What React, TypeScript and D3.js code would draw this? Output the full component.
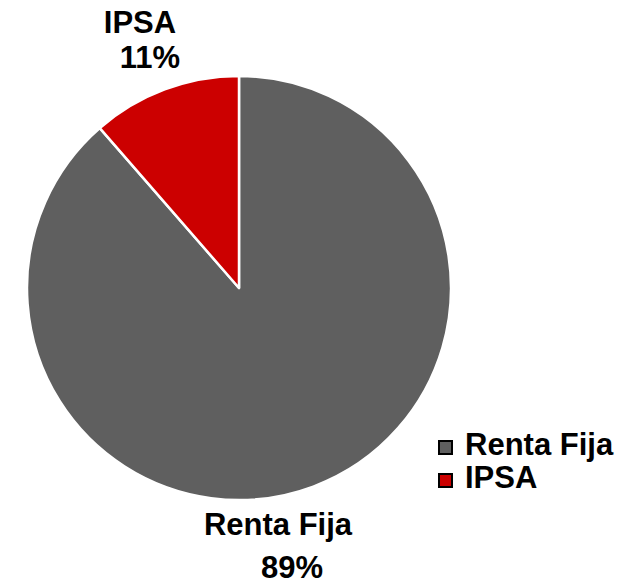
import React, { useRef, useEffect } from 'react';
import * as d3 from 'd3';

const categories = ['Renta Fija', 'IPSA'];
const values = [88.6, 11.4];
const pctLabels = ['89%', '11%'];
const colors = ['#5f5f5f', '#cc0000'];

const width = 632;
const height = 584;

const App = () => {
  const svgRef = useRef<SVGSVGElement>(null);

  useEffect(() => {
    const svg = d3.select(svgRef.current);
    svg.selectAll('*').remove();

    svg.attr('width', width).attr('height', height);

    const cx = 239;
    const cy = 288;
    const radius = 212;

    const data = categories.map((name, i) => ({ name, value: values[i], pct: pctLabels[i] }));

    const color = d3.scaleOrdinal<string, string>().domain(categories).range(colors);

    const pie = d3.pie<{ name: string; value: number; pct: string }>()
      .sort(null)
      .value(d => d.value);

    const arc = d3.arc<d3.PieArcDatum<{ name: string; value: number; pct: string }>>()
      .innerRadius(0)
      .outerRadius(radius);

    const g = svg.append('g').attr('transform', `translate(${cx}, ${cy})`);

    g.selectAll('path')
      .data(pie(data))
      .enter()
      .append('path')
      .attr('d', arc)
      .attr('fill', d => color(d.data.name))
      .attr('stroke', '#fff')
      .attr('stroke-width', 2.5)
      .attr('stroke-linejoin', 'round');

    const font = 'Liberation Sans, Arial, sans-serif';

    // data labels (placed outside the pie, as in the original)
    const labelPos: Record<string, { name: [number, number]; pct: [number, number] }> = {
      'Renta Fija': { name: [278, 535], pct: [292, 578] },
      IPSA: { name: [140, 33], pct: [150, 68] },
    };

    data.forEach(d => {
      const p = labelPos[d.name];
      const t = svg.append('g')
        .attr('font-family', font)
        .attr('font-weight', 'bold')
        .attr('font-size', 31)
        .attr('fill', '#000')
        .attr('text-anchor', 'middle');
      t.append('text').attr('x', p.name[0]).attr('y', p.name[1]).text(d.name);
      t.append('text').attr('x', p.pct[0]).attr('y', p.pct[1]).text(d.pct);
    });

    // legend
    const legend = svg.append('g').attr('transform', 'translate(438, 440)');
    const items = legend.selectAll('g')
      .data(data)
      .enter()
      .append('g')
      .attr('transform', (d, i) => `translate(0, ${i * 33})`);

    items.append('rect')
      .attr('x', 1)
      .attr('y', 1)
      .attr('width', 13)
      .attr('height', 13)
      .attr('fill', d => color(d.name))
      .attr('stroke', '#000')
      .attr('stroke-width', 2);

    items.append('text')
      .attr('x', 27)
      .attr('y', 15)
      .attr('font-family', font)
      .attr('font-weight', 'bold')
      .attr('font-size', 31)
      .attr('fill', '#000')
      .text(d => d.name);
  }, []);

  return (
    <div style={{ position: 'absolute', left: 0, top: 0 }}>
      <svg ref={svgRef} style={{ display: 'block' }}></svg>
    </div>
  );
};

export default App;
